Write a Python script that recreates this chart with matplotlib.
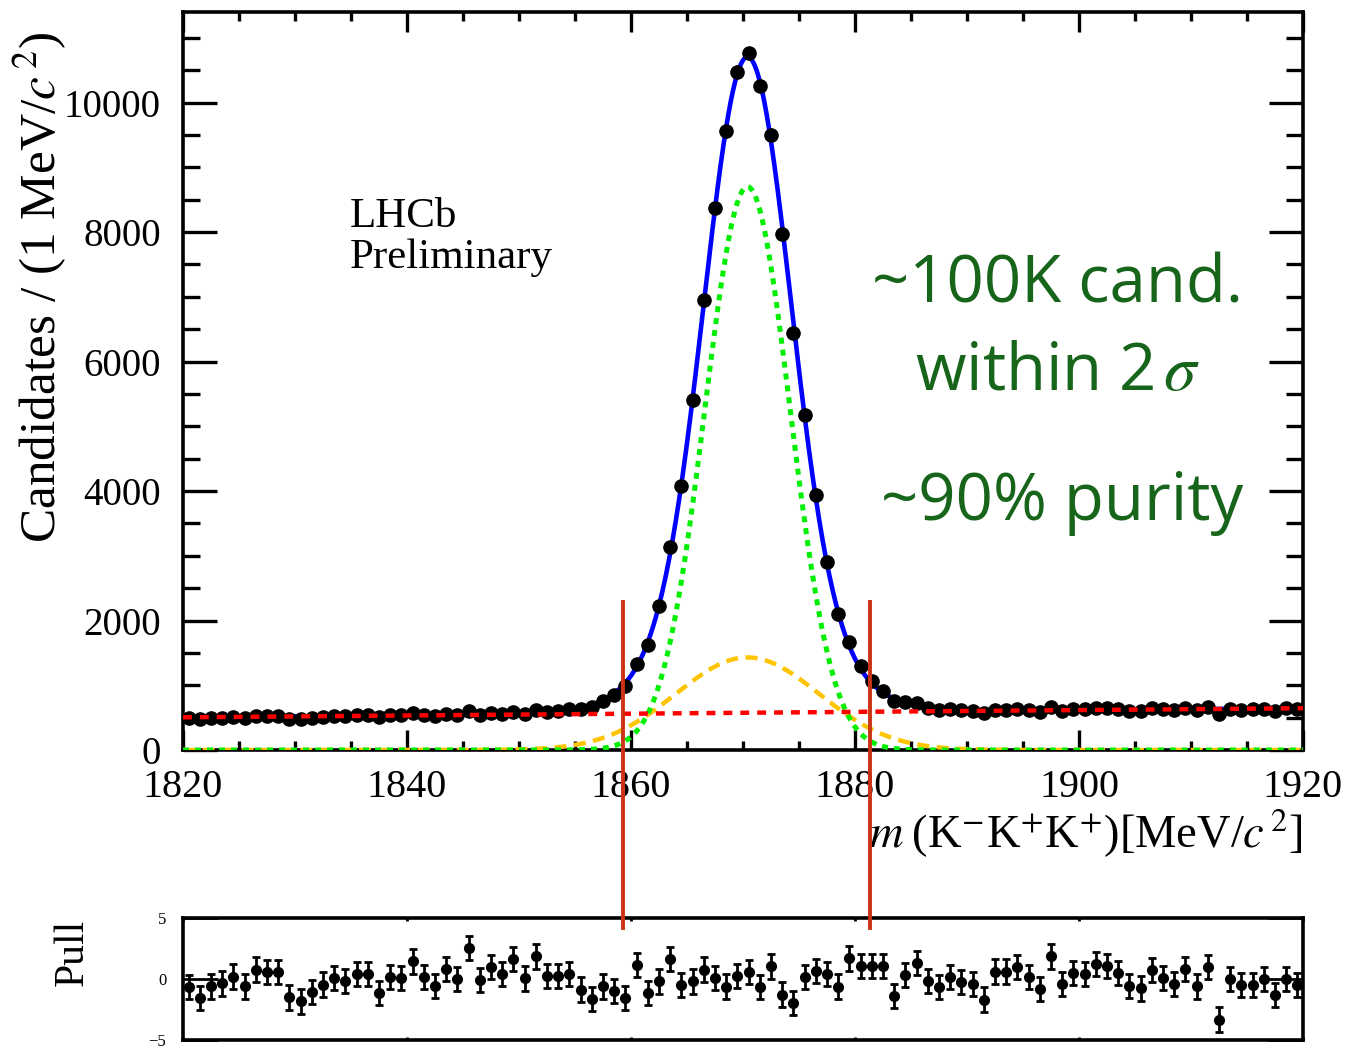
import numpy as np
import matplotlib
matplotlib.use('Agg')
import matplotlib.pyplot as plt
from matplotlib.ticker import MultipleLocator, NullFormatter
import matplotlib.transforms as mtransforms
from matplotlib.lines import Line2D

# bin edges of the m(K-K+K+) histogram, 1 MeV bins
edges = np.arange(1820, 1921, 1)
centres = 0.5 * (edges[:-1] + edges[1:])

counts = [491, 472, 495, 502, 515, 499, 531, 528, 530, 484,
          478, 496, 512, 526, 521, 536, 537, 503, 534, 534,
          567, 538, 524, 557, 539, 600, 540, 567, 559, 592,
          560, 611, 585, 603, 629, 632, 659, 756, 850, 986,
          1327, 1619, 2225, 3129, 4078, 5411, 6958, 8369, 9557, 10476,
          10763, 10260, 9503, 7975, 6448, 5171, 3934, 2899, 2097, 1670,
          1296, 1066, 919, 754, 739, 722, 655, 623, 631, 612,
          604, 569, 625, 625, 634, 614, 592, 660, 605, 628,
          628, 650, 648, 634, 609, 606, 645, 630, 619, 651,
          617, 657, 551, 636, 625, 627, 640, 608, 643, 632]

pulls = [-0.68, -1.56, -0.60, -0.36, 0.19, -0.60, 0.77, 0.55, 0.55, -1.50,
         -1.83, -1.09, -0.46, 0.08, -0.16, 0.41, 0.41, -1.17, 0.14, 0.08,
         1.45, 0.14, -0.55, 0.82, 0.00, 2.54, -0.08, 1.00, 0.41, 1.64,
         0.05, 1.86, 0.27, 0.27, 0.41, -0.87, -1.64, -0.60, -0.96, -1.58,
         1.15, -1.17, -0.19, 1.64, -0.49, -0.19, 0.77, 0.08, -0.63, 0.27,
         0.55, -0.68, 1.04, -1.28, -1.97, 0.14, 0.68, 0.41, -0.63, 1.69,
         1.09, 1.09, 1.09, -1.37, 0.33, 1.31, -0.14, -0.68, 0.14, -0.27,
         -0.41, -1.69, 0.60, 0.60, 0.96, 0.14, -0.82, 1.86, -0.41, 0.49,
         0.41, 1.23, 1.09, 0.49, -0.55, -0.77, 0.74, 0.08, -0.41, 0.82,
         -0.60, 0.96, -3.33, 0.00, -0.49, -0.49, 0.00, -1.31, 0.00, -0.49]

# fit model
bkg_ends = [505, 645]          # linear background at 1820 and 1920
peak_mean = 1870.4
core_height, core_sigma = 8700, 3.8   # green dotted
wide_height, wide_sigma = 1430, 6.4   # yellow dashed

# selection window (vertical lines)
window = [1859.3, 1881.3]

W, H = 1353, 1049
plt.rcParams['font.family'] = ['Liberation Serif', 'DejaVu Serif']
plt.rcParams['mathtext.fontset'] = 'stix'

fig = plt.figure(figsize=(W / 100, H / 100), dpi=100)
ax = fig.add_axes([183 / W, 1 - 750 / H, 1120 / W, 738 / H])
ax2 = fig.add_axes([183 / W, 1 - 1040 / H, 1120 / W, 122 / H])

m = np.linspace(1820, 1920, 1001)
bkg = np.interp(m, [1820, 1920], bkg_ends)
core = core_height * np.exp(-0.5 * ((m - peak_mean) / core_sigma) ** 2)
wide = wide_height * np.exp(-0.5 * ((m - peak_mean) / wide_sigma) ** 2)
total = bkg + core + wide

counts = np.array(counts)
ax.plot(m, total, color='#0000ff', lw=3.3, zorder=2)
ax.errorbar(centres, counts, yerr=np.sqrt(counts), xerr=0.5, fmt='o',
            color='black', ms=9.5, elinewidth=2.2, capsize=0, zorder=3)
ax.plot(m, wide, color='#ffc400', lw=3.2, linestyle=(0, (2.7, 1.7)), zorder=4)
ax.plot(m, core, color='#00ee00', lw=3.6, linestyle=(0, (1.2, 1.2)), zorder=4)
ax.plot(m, bkg, color='#ff0000', lw=3.2, linestyle=(0, (2.0, 1.8)), zorder=4)

ax.set_xlim(1820, 1920)
ax.set_ylim(0, 11400)
ax.xaxis.set_major_locator(MultipleLocator(20))
ax.xaxis.set_minor_locator(MultipleLocator(5))
ax.yaxis.set_major_locator(MultipleLocator(2000))
ax.yaxis.set_minor_locator(MultipleLocator(500))
ax.tick_params(axis='both', which='both', direction='in', top=True, right=True,
               width=2.4)
ax.tick_params(axis='x', which='major', length=14.5, pad=14, labelsize=29)
ax.tick_params(axis='x', which='minor', length=6.5)
ax.tick_params(axis='y', which='major', length=24.5, pad=16, labelsize=28)
ax.tick_params(axis='y', which='minor', length=12)
for s in ax.spines.values():
    s.set_linewidth(2.6)

fig.text(40 / W, 1 - 287 / H, 'Candidates / (1 MeV/$c^{\\,2}$)', rotation=90,
         fontsize=37, ha='center', va='center')
fig.text(1303 / W, 1 - 848 / H, '$m\\;$(K$^{-}$K$^{+}$K$^{+}$)[MeV/$c^{\\,2}$]',
         fontsize=33.5, ha='right', va='baseline')

fig.text(350 / W, 1 - 227 / H, 'LHCb', fontsize=31, va='baseline')
fig.text(350 / W, 1 - 268 / H, 'Preliminary', fontsize=31, va='baseline')

green = '#17651a'
fig.text(1058 / W, 1 - 302 / H, '~100K cand.', family='Open Sans', fontsize=47,
         color=green, ha='center', va='baseline')
fig.text(1058 / W, 1 - 390 / H, 'within 2$\\,\\sigma$', family='Open Sans',
         fontsize=47, color=green, ha='center', va='baseline')
fig.text(1062 / W, 1 - 520 / H, '~90% purity', family='Open Sans', fontsize=47,
         color=green, ha='center', va='baseline')

# pull panel
ax2.errorbar(centres, pulls, yerr=1, fmt='o', color='black', ms=7,
             elinewidth=2, capsize=3, capthick=2)
ax2.set_xlim(1820, 1920)
ax2.set_ylim(-5, 5)
ax2.set_yticks([-5, 0, 5])
ax2.xaxis.set_major_locator(MultipleLocator(20))
ax2.xaxis.set_major_formatter(NullFormatter())
ax2.tick_params(axis='both', direction='in', top=True, right=True, width=2)
ax2.tick_params(axis='x', length=2)
ax2.tick_params(axis='y', length=25, pad=12, labelsize=12)
for s in ax2.spines.values():
    s.set_linewidth(2.6)
fig.text(73 / W, 1 - 952 / H, 'Pull', rotation=90, fontsize=30,
         ha='center', va='center')

# signal window lines spanning both panels
trans = mtransforms.blended_transform_factory(ax.transData, fig.transFigure)
for x in window:
    fig.add_artist(Line2D([x, x], [1 - 602 / H, 1 - 928 / H], transform=trans,
                          color='#cc3314', lw=2.8, zorder=10))

fig.savefig('out.png', dpi=100)
